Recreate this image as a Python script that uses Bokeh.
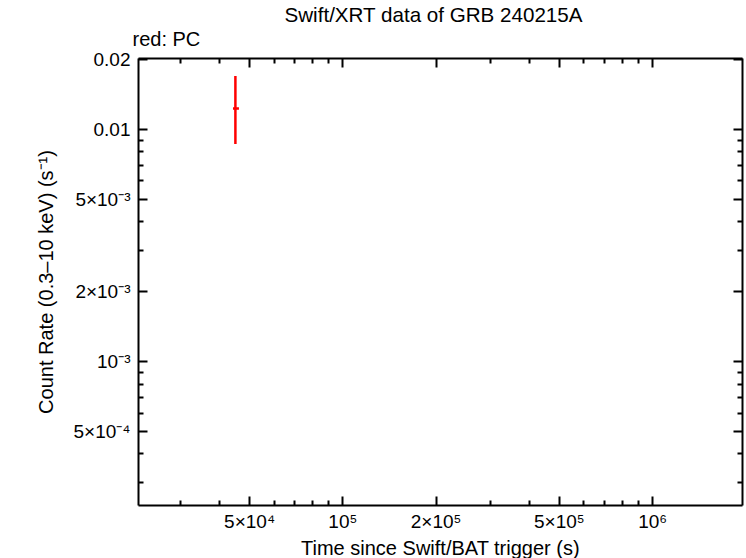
from bokeh.embed import file_html
from bokeh.models import FixedTicker, LogAxis, Range1d, Title
from bokeh.plotting import figure
from bokeh.resources import INLINE

# single PC-mode point
time = [4.50e4]
time_lo = [4.42e4]
time_hi = [4.62e4]
rate = [0.0123]
rate_lo = [0.00865]
rate_hi = [0.0170]

x_ticks = [5e4, 1e5, 2e5, 5e5, 1e6]
x_tick_labels = ["5×10⁴", "10⁵", "2×10⁵", "5×10⁵", "10⁶"]
x_minor = [3e4, 4e4, 6e4, 7e4, 8e4, 9e4, 3e5, 4e5, 6e5, 7e5, 8e5, 9e5]

y_ticks = [5e-4, 1e-3, 2e-3, 5e-3, 1e-2, 2e-2]
y_tick_labels = ["5×10⁻⁴", "10⁻³", "2×10⁻³", "5×10⁻³", "0.01", "0.02"]
y_minor = [3e-4, 4e-4, 6e-4, 7e-4, 8e-4, 9e-4, 3e-3, 4e-3, 6e-3, 7e-3, 8e-3, 9e-3]

FONT = "Liberation Sans"

p = figure(
    width=746,
    height=558,
    x_axis_type="log",
    y_axis_type="log",
    x_range=Range1d(2.19e4, 1.95e6),
    y_range=Range1d(2.40e-4, 0.0202),
    y_axis_label="Count Rate (0.3–10 keV) (s⁻¹)",
    toolbar_location=None,
    tools="",
    min_border_left=138,
    min_border_right=4,
    min_border_top=58,
    min_border_bottom=51,
    outline_line_color=None,
    output_backend="svg")
p.grid.visible = False

x_ticker = FixedTicker(ticks=x_ticks, minor_ticks=x_minor)
y_ticker = FixedTicker(ticks=y_ticks, minor_ticks=y_minor)
p.xaxis.ticker = x_ticker
p.yaxis.ticker = y_ticker
p.xaxis.major_label_overrides = dict(zip(x_ticks, x_tick_labels))
p.yaxis.major_label_overrides = dict(zip(y_ticks, y_tick_labels))

p.add_layout(LogAxis(ticker=x_ticker), "above")
p.add_layout(LogAxis(ticker=y_ticker), "right")

for ax in p.axis:
    ax.axis_line_width = 2
    ax.axis_line_color = "black"
    ax.major_tick_in = 9
    ax.major_tick_out = 0
    ax.minor_tick_in = 5
    ax.minor_tick_out = 0
    ax.major_tick_line_width = 2
    ax.minor_tick_line_width = 2
    ax.major_label_text_font = FONT
    ax.major_label_text_font_size = "19px"
    ax.major_label_text_color = "black"
    ax.axis_label_text_font = FONT
    ax.axis_label_text_font_size = "20px"
    ax.axis_label_text_font_style = "normal"
    ax.axis_label_text_color = "black"

# mirrored tick axes: no labels drawn
for ax in p.above + p.right:
    ax.major_label_text_font_size = "1px"
    ax.major_label_text_color = None
    ax.major_label_standoff = 0

p.xaxis[0].major_label_standoff = 1
p.yaxis[0].major_label_standoff = 8
p.yaxis[0].axis_label_standoff = 14

p.segment(x0=time, y0=rate_lo, x1=time, y1=rate_hi, line_color="#ff0000", line_width=2.5)
p.segment(x0=time_lo, y0=rate, x1=time_hi, y1=rate, line_color="#ff0000", line_width=2.5)

p.add_layout(Title(text="Time since Swift/BAT trigger (s)", align="center", standoff=0,
                   text_font=FONT, text_font_size="20px", text_font_style="normal",
                   text_color="black"), "below")

p.add_layout(Title(text="red: PC", align="left", offset=-6, standoff=18,
                   text_font=FONT, text_font_size="20px", text_font_style="normal",
                   text_color="black"), "above")
p.title.text = "Swift/XRT data of GRB 240215A"
p.title.align = "left"
p.title.offset = 146
p.title.standoff = -18
p.title.text_font = FONT
p.title.text_font_size = "20.6px"
p.title.text_font_style = "normal"
p.title.text_color = "black"

open("out.html", "w").write(file_html(p, INLINE))
